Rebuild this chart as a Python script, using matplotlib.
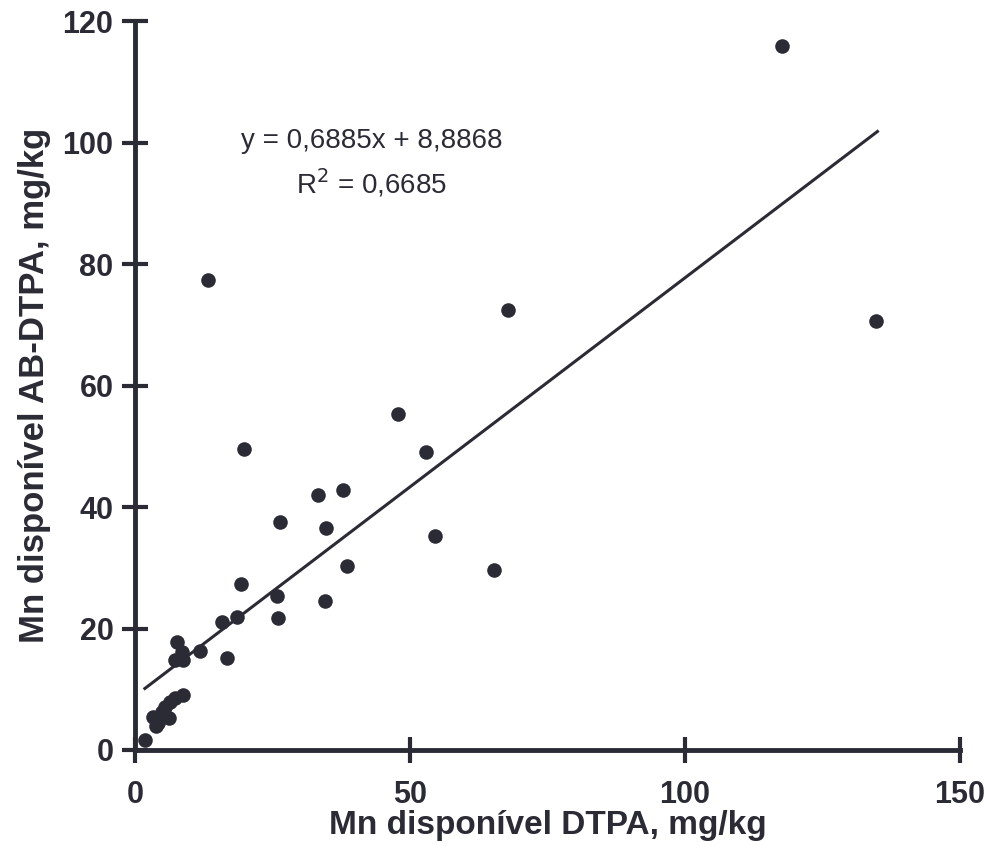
import matplotlib
matplotlib.use("Agg")
import matplotlib.pyplot as plt
import numpy as np

plt.rcParams['font.family'] = ['Liberation Sans', 'DejaVu Sans']

x_dtpa = [117.6, 13.3, 67.8, 134.7, 47.8, 19.8, 52.9, 33.3, 37.8, 26.4,
          34.7, 54.5, 38.5, 65.3, 19.3, 25.8, 34.5, 18.5, 26.0, 15.8,
          7.6, 8.5, 7.3, 8.7, 11.8, 16.7,
          8.8, 7.3, 6.4, 5.5, 4.9, 3.3, 6.1, 4.2, 3.9, 1.8]
y_abdtpa = [115.9, 77.4, 72.4, 70.6, 55.3, 49.5, 49.1, 42.0, 42.8, 37.5,
            36.5, 35.2, 30.3, 29.6, 27.3, 25.3, 24.5, 21.9, 21.7, 21.1,
            17.8, 16.1, 14.8, 14.8, 16.3, 15.2,
            9.05, 8.5, 7.95, 7.1, 6.3, 5.5, 5.2, 4.4, 3.9, 1.6]

slope = 0.6885
intercept = 8.8868
r2 = 0.6685
line_x = [1.8, 135.0]

x_ticks = [0, 50, 100, 150]
y_ticks = [0, 20, 40, 60, 80, 100, 120]

col = '#2b2b36'

fig = plt.figure(figsize=(9.88, 8.46), dpi=100)
ax = fig.add_axes([0.1366, 0.1135, 0.835, 0.8615])

ax.scatter(x_dtpa, y_abdtpa, s=110, color=col, zorder=3, clip_on=False, linewidths=0)
lx = np.array(line_x)
ax.plot(lx, slope * lx + intercept, color=col, lw=2.2, zorder=2)

ax.set_xlim(0, 150)
ax.set_ylim(0, 120)
ax.set_xticks(x_ticks)
ax.set_yticks(y_ticks)
for s in ['top', 'right']:
    ax.spines[s].set_visible(False)
for s in ['left', 'bottom']:
    ax.spines[s].set_linewidth(3.5)
    ax.spines[s].set_color(col)
ax.tick_params(direction='inout', length=19, width=3, color=col,
               labelsize=22, labelcolor=col)
ax.tick_params(axis='x', pad=12)
ax.tick_params(axis='y', pad=6)
for lab in ax.get_xticklabels() + ax.get_yticklabels():
    lab.set_fontweight('bold')

ax.set_xlabel('Mn disponível DTPA, mg/kg', fontsize=24, fontweight='bold',
              color=col, labelpad=0)
ax.set_ylabel('Mn disponível AB-DTPA, mg/kg', fontsize=25, fontweight='bold',
              color=col, labelpad=8)

ax.text(43, 100.2, 'y = 0,6885x + 8,8868', ha='center', va='center',
        fontsize=20, color=col)
ax.text(43, 93.3, 'R$^2$ = 0,6685', ha='center', va='center',
        fontsize=20, color=col)

fig.savefig('out.png', dpi=100)
